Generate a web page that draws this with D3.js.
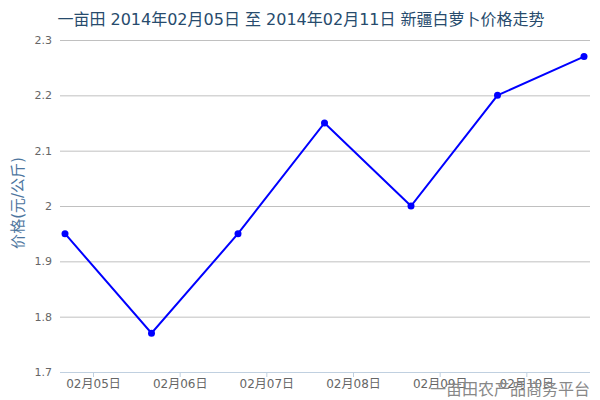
<!DOCTYPE html>
<html>
<head>
<meta charset="utf-8">
<script src="https://cdn.jsdelivr.net/npm/d3@7"></script>
<style>
  body { margin: 0; background: #fff; }
  svg text { font-family: "DejaVu Sans", "Noto Sans CJK SC", sans-serif; }
</style>
</head>
<body>
<svg id="chart" width="600" height="400"></svg>
<script>
// chart data
let dates = ['02月05日', '02月06日', '02月07日', '02月08日', '02月09日', '02月10日', '02月11日'],
    prices = [1.95, 1.77, 1.95, 2.15, 2.0, 2.2, 2.27],
    yTicks = [1.7, 1.8, 1.9, 2.0, 2.1, 2.2, 2.3];

let svg = d3.select('#chart'),
    plotLeft = 60, plotRight = 590, plotTop = 40, plotBottom = 372;

let x = d3.scalePoint().domain(dates).range([65, 584]),
    xLabels = d3.scalePoint().domain(dates).range([93, 613]),
    y = d3.scaleLinear().domain([1.7, 2.3]).range([plotBottom, plotTop]);

// title
svg.append('text')
    .attr('x', 301).attr('y', 25)
    .attr('text-anchor', 'middle')
    .style('font-size', '16px')
    .style('fill', '#274b6d')
    .text('一亩田 2014年02月05日 至 2014年02月11日 新疆白萝卜价格走势');

// y grid + labels
let yAxis = svg.append('g')
    .attr('transform', 'translate(' + plotLeft + ',0)')
    .call(d3.axisLeft(y).tickValues(yTicks).tickSize(-(plotRight - plotLeft)).tickPadding(8)
        .tickFormat(d3.format('')));
yAxis.select('.domain').remove();
yAxis.selectAll('line').attr('stroke', '#c0c0c0');
yAxis.selectAll('text').style('font-size', '11px').style('fill', '#666');

// y title
svg.append('text')
    .attr('transform', 'translate(23,203) rotate(-90)')
    .attr('text-anchor', 'middle')
    .style('font-size', '15px')
    .style('fill', '#4d759e')
    .text('价格(元/公斤)');

// x axis
let xAxis = svg.append('g')
    .attr('transform', 'translate(0,' + plotBottom + ')')
    .call(d3.axisBottom(xLabels).tickValues(dates.slice(0, 6)).tickSize(5).tickSizeOuter(0).tickPadding(2));
xAxis.select('.domain').remove();
xAxis.selectAll('line').attr('stroke', '#c0d0e0');
xAxis.selectAll('text').style('font-size', '12px').style('fill', '#666');
svg.append('line')
    .attr('x1', plotLeft).attr('x2', plotRight)
    .attr('y1', plotBottom + 0.5).attr('y2', plotBottom + 0.5)
    .attr('stroke', '#c0d0e0');

// price line
svg.append('path')
    .datum(prices)
    .attr('fill', 'none')
    .attr('stroke', '#0000ff')
    .attr('stroke-width', 2)
    .attr('d', d3.line().x((d, i) => x(dates[i])).y(d => y(d)));

svg.selectAll('circle.pt')
    .data(prices)
    .enter()
    .append('circle')
    .attr('class', 'pt')
    .attr('cx', (d, i) => x(dates[i]))
    .attr('cy', d => y(d))
    .attr('r', 3.5)
    .attr('fill', '#0000ff');

// watermark
svg.append('text')
    .attr('x', 590).attr('y', 395)
    .attr('text-anchor', 'end')
    .style('font-size', '16px')
    .style('fill', '#888')
    .text('一亩田农产品商务平台');
</script>
</body>
</html>
